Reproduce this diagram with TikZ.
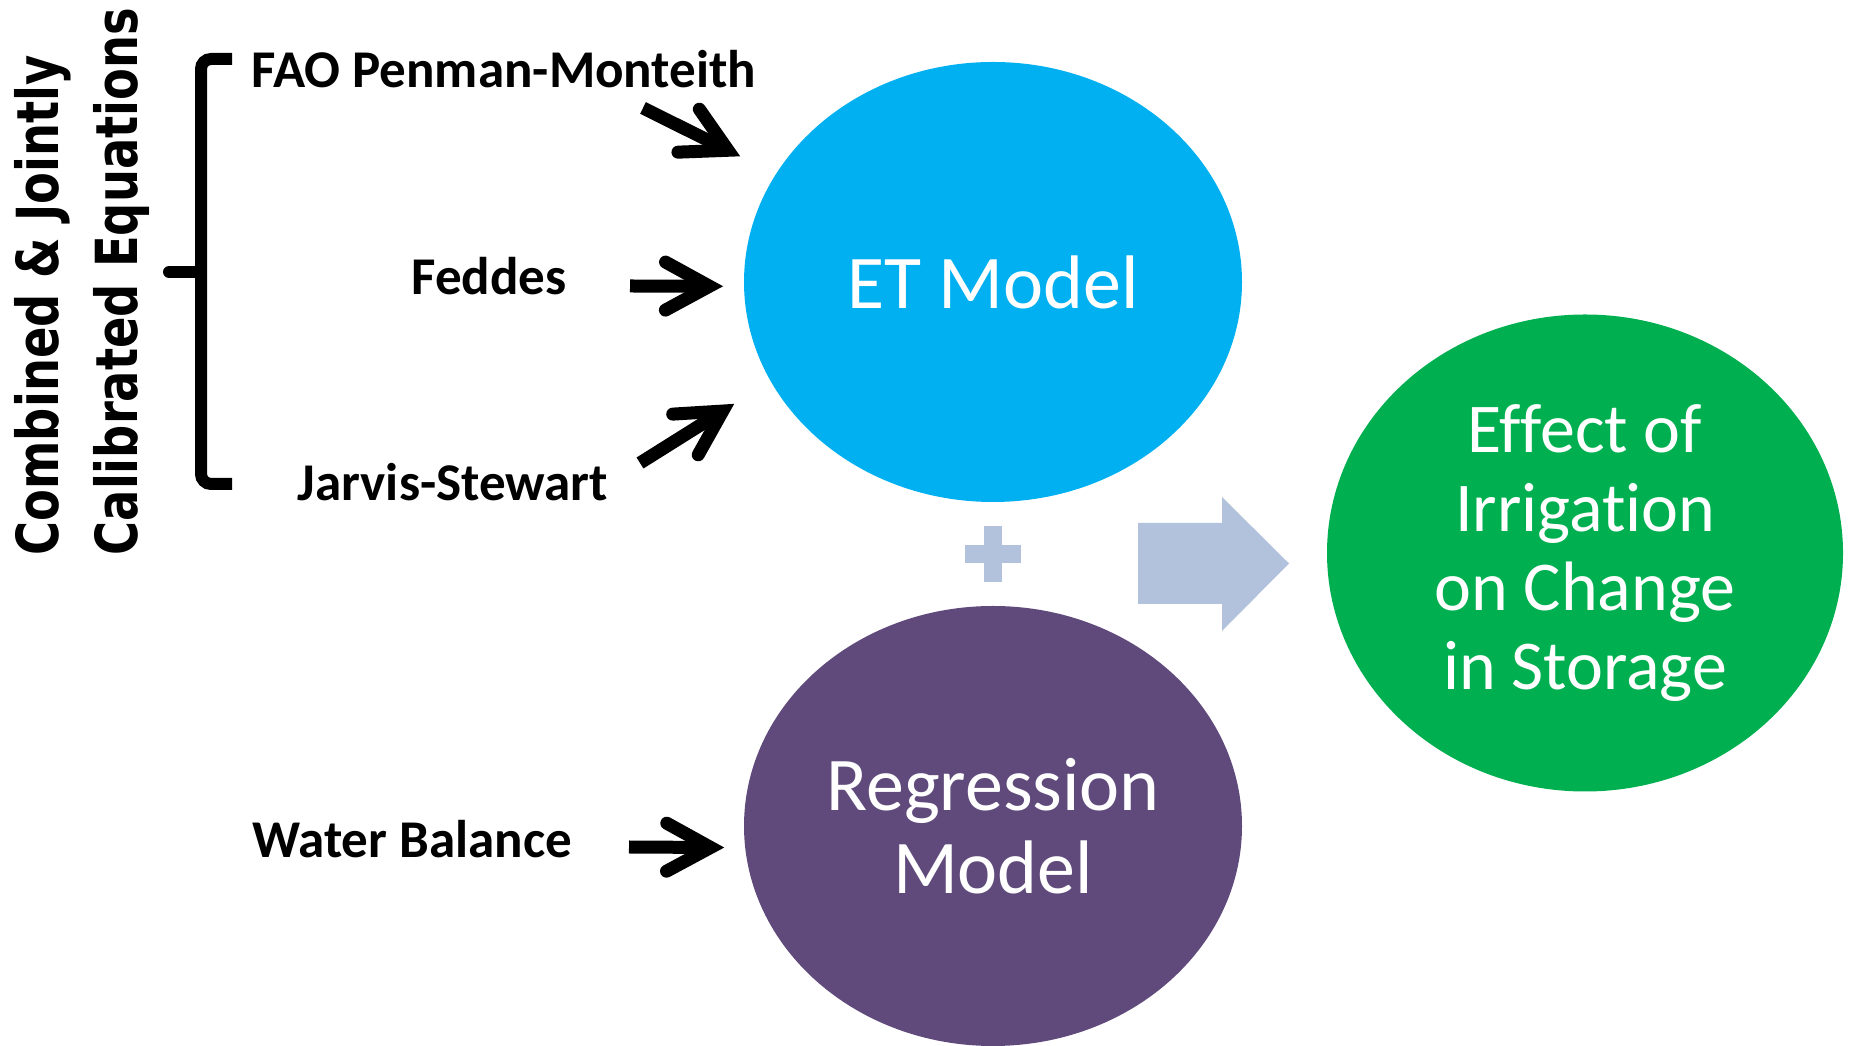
\documentclass[tikz,border=0pt]{standalone}
\usepackage{fontspec}
\setmainfont{Carlito}[RawFeature={-liga;-clig;-calt;-dlig}]
\newfontfamily\sidefont[FakeStretch=0.80]{DejaVu Sans}
\usepackage{tikz}
\usetikzlibrary{positioning}
\usetikzlibrary{shapes.geometric}
\usetikzlibrary{arrows.meta}

\definecolor{etblue}{HTML}{00B0F0}
\definecolor{regpurple}{HTML}{604A7B}
\definecolor{effgreen}{HTML}{00B050}
\definecolor{paleblue}{HTML}{B3C2DC}

\begin{document}
\begin{tikzpicture}[
    eqname/.style={font=\bfseries\fontsize{15.1}{18}\selectfont, inner sep=0pt, anchor=base},
    sidetext/.style={font=\sidefont\bfseries\fontsize{16.5}{20}\selectfont, inner sep=0pt, rotate=90, anchor=base west},
    model/.style={ellipse, minimum width=4.98cm, minimum height=4.40cm, inner sep=0pt, outer sep=0pt,
                  text=white, align=center, font=\fontsize{21.6}{23.6}\selectfont},
    inarrow/.style={line width=1.3mm, -{Straight Barb[length=4.4mm,width=4.8mm,line cap=round,line join=miter]}}
  ]
  \useasboundingbox (0,0) rectangle (18.56,-10.46);

  % Side title and bracket
  \node[sidetext] (combined) at (0.59,-5.56) {Combined \& Jointly};
  \node[sidetext] (calibrated) at (1.37,-5.56) {Calibrated Equations};
  \draw[line width=1.2mm, rounded corners=1mm] (2.32,-0.59) -- (2.01,-0.59) -- (2.01,-4.84) -- (2.32,-4.84);
  \draw[line width=1.2mm, line cap=round] (2.01,-2.72) -- (1.69,-2.72);

  % Equations
  \node[eqname] (fao) at (5.04,-0.88) {FAO Penman-Monteith};
  \node[eqname] (feddes) at (4.89,-2.95) {Feddes};
  \node[eqname] (jarvis) at (4.53,-5.01) {Jarvis-Stewart};
  \node[eqname] (wb) at (4.12,-8.58) {Water Balance};

  % Models
  \node[model, fill=etblue] (et) at (9.93,-2.82) {ET Model};
  \node[model, fill=regpurple, below=1.04cm of et] (reg) {Regression\\Model};
  \node[model, fill=effgreen, minimum width=5.16cm, minimum height=4.77cm,
        font=\fontsize{19.9}{22.5}\selectfont] (effect) at (15.85,-5.53)
        {Effect of\\Irrigat\kern0pt ion\\on Change\\in Storage};

  % Arrows into the models
  \coordinate (faotail) at (6.43,-1.08);
  \coordinate (feddestail) at (6.30,-2.86);
  \coordinate (jarvistail) at (6.40,-4.63);
  \coordinate (wbtail) at (6.29,-8.47);
  \draw[inarrow, shorten >=4mm] (faotail) -- (et);
  \draw[inarrow, shorten >=2.1mm] (feddestail) -- (et.181);
  \draw[inarrow, shorten >=4.3mm] (jarvistail) -- (et.204);
  \draw[inarrow, shorten >=2.1mm] (wbtail) -- (reg.185);

  % Plus sign
  \fill[paleblue] (9.84,-5.26) rectangle (10.02,-5.82);
  \fill[paleblue] (9.65,-5.45) rectangle (10.21,-5.63);

  % Block arrow
  \fill[paleblue] (11.38,-5.23) -- (12.22,-5.23) -- (12.22,-4.97) -- (12.89,-5.635)
    -- (12.22,-6.31) -- (12.22,-6.04) -- (11.38,-6.04) -- cycle;
\end{tikzpicture}
\end{document}
